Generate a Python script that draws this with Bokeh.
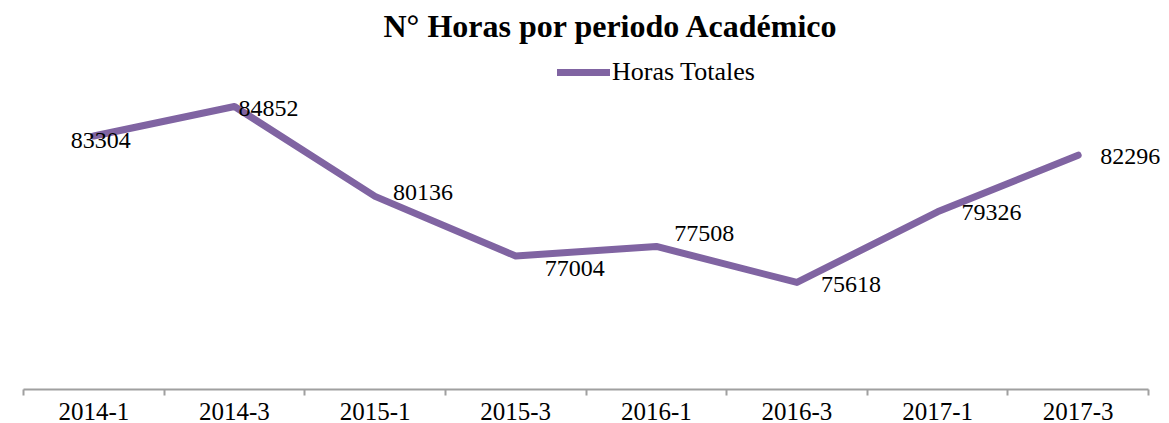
from bokeh.plotting import figure
from bokeh.models import ColumnDataSource, Range1d, FixedTicker, LabelSet
from bokeh.embed import file_html
from bokeh.resources import INLINE

periodos = ["2014-1", "2014-3", "2015-1", "2015-3", "2016-1", "2016-3", "2017-1", "2017-3"]
horas = [83304, 84852, 80136, 77004, 77508, 75618, 79326, 82296]
serie = "Horas Totales"
titulo = "N\u00b0 Horas por periodo Acad\u00e9mico"

# label placement offsets (screen px)
lab_dx = [-23, 4, 18, 29, 18, 24, 24, 22]
lab_dy = [-5, -2, 4, -12, 13, -2, -1, -1]

n = len(periodos)
xpos = list(range(n))
src = ColumnDataSource(dict(x=xpos, y=horas, txt=[str(v) for v in horas], dx=lab_dx, dy=lab_dy))

W, H = 1169, 423
left_px = 23
axis_px = 1125          # pixel length of the drawn category axis
extra_px = W - left_px - axis_px   # room to the right so the last label isn't clipped
x_end = (n - 0.5) + extra_px * n / axis_px

p = figure(width=W, height=H, output_backend="svg", toolbar_location=None,
           x_range=Range1d(-0.5, x_end), y_range=Range1d(70000, 88000),
           min_border_left=left_px, min_border_right=0, min_border_top=46, min_border_bottom=34)

p.title.text = titulo
p.title.text_font = "Liberation Serif"
p.title.text_font_style = "bold"
p.title.text_font_size = "32px"
p.title.align = "left"
p.title.offset = 360
p.title.standoff = 5
p.title.text_color = "#000000"

p.line("x", "y", source=src, line_color="#8064A2", line_width=7, line_join="round",
       line_cap="round", legend_label=serie)

labels = LabelSet(x="x", y="y", text="txt", source=src, x_offset="dx", y_offset="dy",
                  text_align="left", text_baseline="middle", text_font="Liberation Serif",
                  text_font_size="24px", text_color="#000000")
p.add_layout(labels)

p.yaxis.visible = False
p.xgrid.visible = False
p.ygrid.visible = False
p.outline_line_color = None

ax = p.xaxis[0]
ax.bounds = (-0.5, n - 0.5)
ax.ticker = FixedTicker(ticks=xpos, minor_ticks=[i - 0.5 for i in range(n + 1)])
ax.major_label_overrides = {i: s for i, s in enumerate(periodos)}
ax.major_tick_out = 0
ax.major_tick_in = 0
ax.minor_tick_out = 6
ax.minor_tick_in = 0
ax.minor_tick_line_color = "#A0A0A0"
ax.minor_tick_line_width = 2
ax.axis_line_color = "#A0A0A0"
ax.axis_line_width = 2
ax.major_label_standoff = 7
ax.major_label_text_font = "Liberation Serif"
ax.major_label_text_font_size = "25px"
ax.major_label_text_color = "#000000"

lg = p.legend[0]
lg.location = (534, 302)
lg.glyph_width = 53
lg.label_standoff = 2
lg.padding = 0
lg.margin = 0
lg.spacing = 0
lg.border_line_alpha = 0
lg.background_fill_alpha = 0
lg.label_text_font = "Liberation Serif"
lg.label_text_font_size = "26px"
lg.label_text_color = "#000000"

open("out.html", "w").write(file_html(p, INLINE))
